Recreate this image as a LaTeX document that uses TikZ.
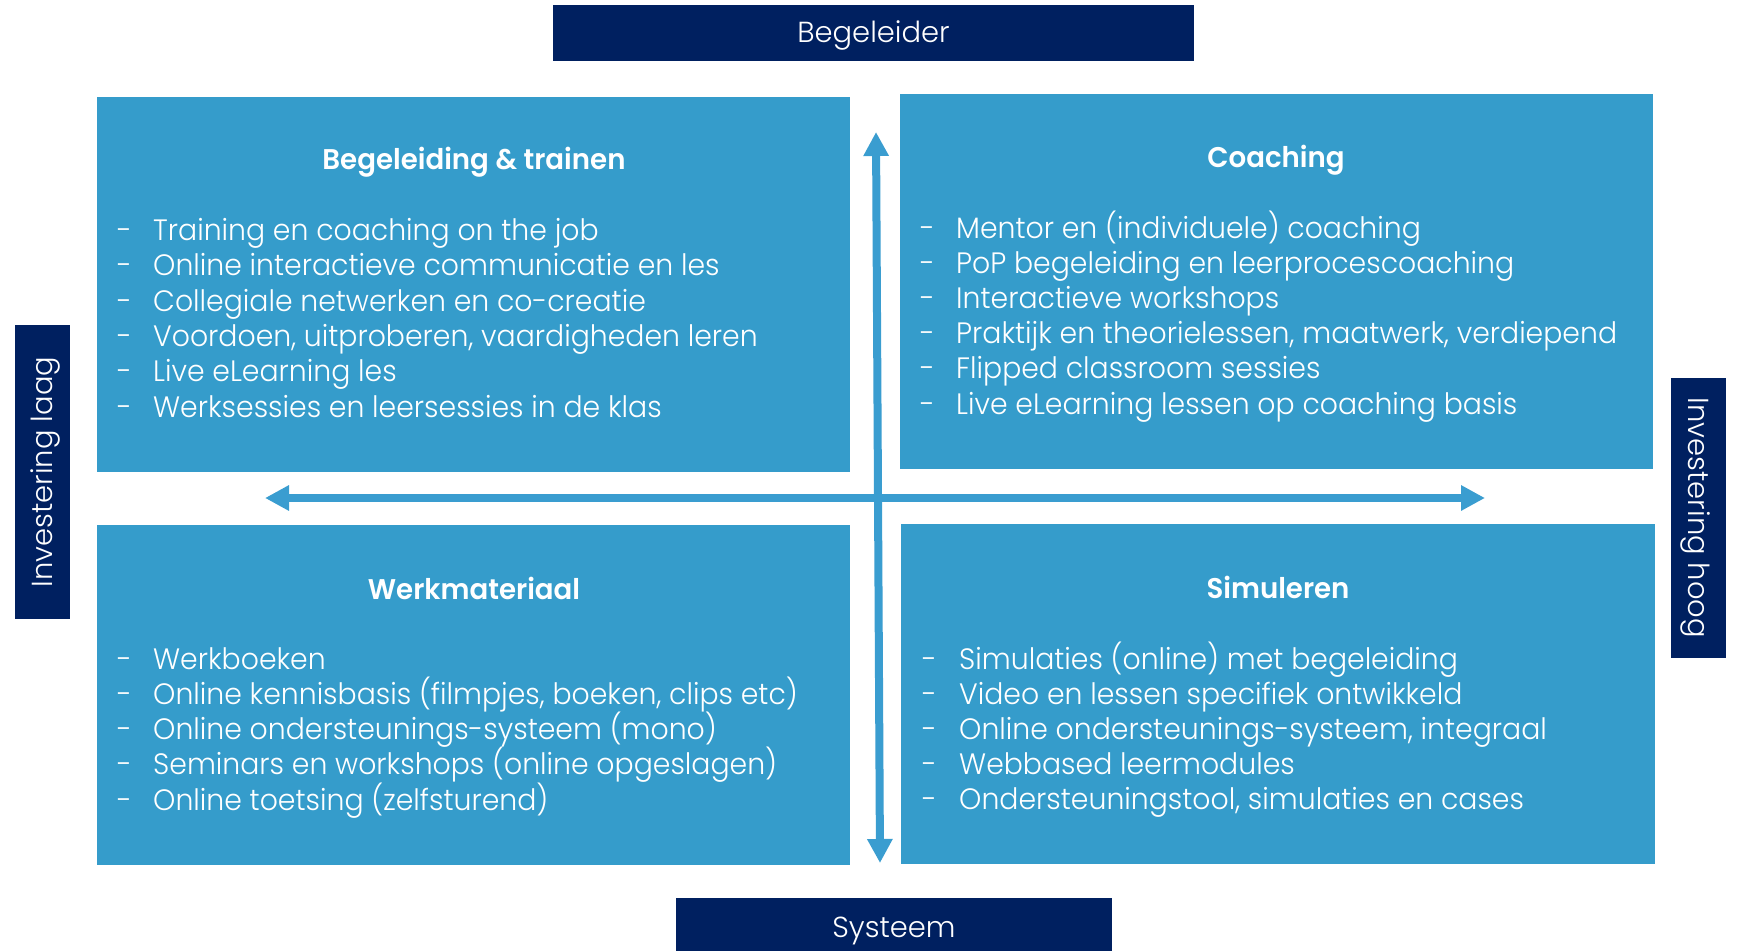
\documentclass[tikz,border=0pt]{standalone}
\usepackage{fontspec}
\usetikzlibrary{arrows.meta}
\IfFontExistsTF{Poppins Light}{\setmainfont{Poppins Light}\newfontfamily\itemfont{Poppins Light}[FakeStretch=0.96]}{\setmainfont{Poppins}\newfontfamily\itemfont{Poppins}[FakeStretch=0.96]}
\IfFontExistsTF{Poppins SemiBold}{\newfontfamily\titlefont{Poppins SemiBold}[FakeStretch=0.97]}{\newfontfamily\titlefont{Poppins}[FakeBold=2,FakeStretch=0.97]}
\definecolor{qblue}{HTML}{359CCB}
\definecolor{ablue}{HTML}{3A9DD0}
\definecolor{navy}{HTML}{002060}
\newcommand\qitems[6]{%
  \foreach \t [count=\i from 0] in {#5}{%
    \node[itemtxt] (#6d\i) at (#1,{#3+#4*\i}) {-};
    \node[itemtxt] (#6t\i) at (#2,{#3+#4*\i}) {\t};
  }}
\begin{document}
\begin{tikzpicture}[x=1pt,y=-1pt,
  quad/.style={fill=qblue,draw=none,anchor=north west,inner sep=0pt,minimum width=753pt},
  lab/.style={fill=navy,text=white,inner sep=0pt,text height=20pt,text depth=0pt,
    font=\fontsize{29}{35}\selectfont},
  itemtxt/.style={anchor=base west,inner sep=0pt,text=white,font=\itemfont\fontsize{29.5}{35}\selectfont},
  qtitle/.style={anchor=base,inner sep=0pt,text=white,font=\titlefont\fontsize{28.5}{35}\selectfont},
  dblarrow/.style={draw=ablue,line width=8pt,
    {Triangle[length=24pt,width=24pt]}-{Triangle[length=24pt,width=24pt]}}
]
\useasboundingbox (0,0) rectangle (1739,950);
% quadrants
\node[quad,minimum height=375pt] (tl) at (97,97) {};
\node[quad,minimum height=375pt] (tr) at (900,94) {};
\node[quad,minimum height=340pt] (bl) at (97,525) {};
\node[quad,minimum height=340pt,minimum width=754pt] (br) at (901,524) {};
% axis labels
\node[lab,minimum width=641pt,minimum height=56pt] (top) at (873.5,33) {Begeleider};
\node[lab,minimum width=436pt,minimum height=59pt] (bot) at (894,927.5) {Systeem};
\node[lab,rotate=90,minimum width=294pt,minimum height=55pt] (left) at (42.5,472) {Investering laag};
\node[lab,rotate=-90,minimum width=280pt,minimum height=55pt] (right) at (1698.5,518) {Investering hoog};
% arrows
\coordinate (hL) at (265,498);
\coordinate (hR) at (1485,498);
\coordinate (vT) at (876,132);
\coordinate (vB) at (880,863);
\draw[dblarrow] (hL) -- (hR);
\draw[dblarrow] (vT) -- (vB);
% titles
\node[qtitle] (tlT) at (474,169.5) {Begeleiding \& trainen};
\node[qtitle] (trT) at (1276,167.5) {Coaching};
\node[qtitle] (blT) at (474,599) {Werkmateriaal};
\node[qtitle] (brT) at (1278,598) {Simuleren};
% items
\qitems{117}{153}{240.5}{35.3}{{Training en coaching on the job},{Online interactieve communicatie en les},{Collegiale netwerken en co-creatie},{Voordoen, uitproberen, vaardigheden leren},{Live eLearning les},{Werksessies en leersessies in de klas}}{a}
\qitems{920}{956}{238.5}{35.1}{{Mentor en (individuele) coaching},{PoP begeleiding en leerprocescoaching},{Interactieve workshops},{Praktijk en theorielessen, maatwerk, verdiepend},{Flipped classroom sessies},{Live eLearning lessen op coaching basis}}{b}
\qitems{117}{153}{669}{35.25}{{Werkboeken},{Online kennisbasis (filmpjes, boeken, clips etc)},{Online ondersteunings-systeem (mono)},{Seminars en workshops (online opgeslagen)},{Online toetsing (zelfsturend)}}{c}
\qitems{922}{959}{669.3}{35}{{Simulaties (online) met begeleiding},{Video en lessen specifiek ontwikkeld},{Online ondersteunings-systeem, integraal},{Webbased leermodules},{Ondersteuningstool, simulaties en cases}}{d}
\end{tikzpicture}
\end{document}
